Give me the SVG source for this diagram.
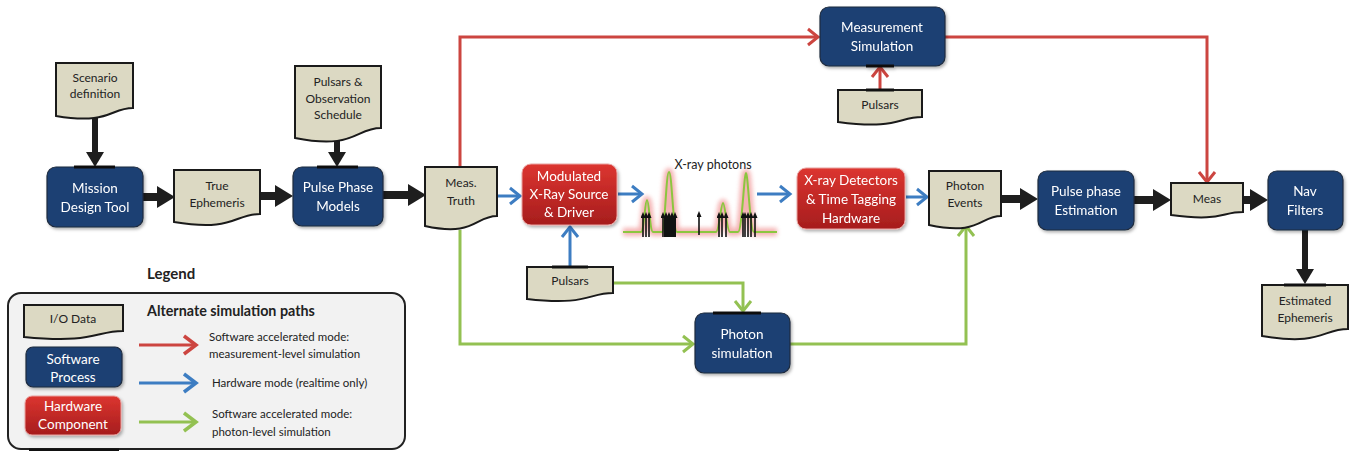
<svg xmlns="http://www.w3.org/2000/svg" width="1351" height="451" viewBox="0 0 1351 451">
<style>
text{font-family:Lato,"Liberation Sans",sans-serif;}
.sw{fill:#1b3f73;stroke:#1c2b3e;stroke-width:1.2;}
.hw{fill:url(#redg);stroke:#e9a3a0;stroke-width:1;}
.doc{fill:#dcd9c3;stroke:#1a1a1a;stroke-width:2;}
.wt{fill:#ffffff;font-size:13.5px;text-anchor:middle;}
.dt{fill:#222222;font-size:12px;text-anchor:middle;}
.lt{fill:#222222;font-size:11.5px;}
.bar{stroke:#111;stroke-width:3;}
.blk{stroke:#1e1e1e;fill:none;}
.red{stroke:#cc4540;stroke-width:3;fill:none;}
.blu{stroke:#3d7dc2;stroke-width:3;fill:none;}
.grn{stroke:#93c152;stroke-width:3;fill:none;}
.pa{stroke:#111;stroke-width:1.6;marker-end:url(#ph);}
</style>
<defs>
<linearGradient id="redg" x1="0" y1="0" x2="0" y2="1">
<stop offset="0" stop-color="#dc3530"/>
<stop offset="1" stop-color="#a61d1d"/>
</linearGradient>
<filter id="sh" x="-10%" y="-10%" width="130%" height="130%">
<feDropShadow dx="1.5" dy="2" stdDeviation="1.5" flood-color="#000" flood-opacity="0.3"/>
</filter>
<filter id="glow" x="-10%" y="-30%" width="120%" height="160%">
<feGaussianBlur stdDeviation="2"/>
</filter>
<marker id="hb" markerUnits="userSpaceOnUse" markerWidth="18" markerHeight="22" refX="0" refY="11" orient="auto">
<path d="M0,0 L18,11 L0,22 z" fill="#1e1e1e"/>
</marker>
<marker id="hbv" markerUnits="userSpaceOnUse" markerWidth="15" markerHeight="18" refX="0" refY="9" orient="auto">
<path d="M0,0 L15,9 L0,18 z" fill="#1e1e1e"/>
</marker>
<marker id="hr" markerUnits="userSpaceOnUse" markerWidth="14" markerHeight="20" refX="11" refY="10" orient="auto">
<path d="M1,2 L11,10 L1,18" fill="none" stroke="#cc4540" stroke-width="3"/>
</marker>
<marker id="hbl" markerUnits="userSpaceOnUse" markerWidth="14" markerHeight="20" refX="11" refY="10" orient="auto">
<path d="M1,2 L11,10 L1,18" fill="none" stroke="#3d7dc2" stroke-width="3"/>
</marker>
<marker id="hg" markerUnits="userSpaceOnUse" markerWidth="14" markerHeight="20" refX="11" refY="10" orient="auto">
<path d="M1,2 L11,10 L1,18" fill="none" stroke="#93c152" stroke-width="3"/>
</marker>
<marker id="hrL" markerUnits="userSpaceOnUse" markerWidth="16" markerHeight="22" refX="13" refY="11" orient="auto">
<path d="M1,2 L13,11 L1,20" fill="none" stroke="#cc4540" stroke-width="3.5"/>
</marker>
<marker id="hblL" markerUnits="userSpaceOnUse" markerWidth="16" markerHeight="22" refX="13" refY="11" orient="auto">
<path d="M1,2 L13,11 L1,20" fill="none" stroke="#3d7dc2" stroke-width="3.5"/>
</marker>
<marker id="hgL" markerUnits="userSpaceOnUse" markerWidth="16" markerHeight="22" refX="13" refY="11" orient="auto">
<path d="M1,2 L13,11 L1,20" fill="none" stroke="#93c152" stroke-width="3.5"/>
</marker>
<marker id="ph" markerUnits="userSpaceOnUse" markerWidth="6" markerHeight="5" refX="3" refY="2.5" orient="auto">
<path d="M0,0 L6,2.5 L0,5 z" fill="#111"/>
</marker>
</defs>

<rect width="1351" height="451" fill="#ffffff"/>

<!-- Connectors -->
<g id="connectors">
<!-- black flow -->
<line class="blk" x1="95" y1="118" x2="95" y2="152" stroke-width="6" marker-end="url(#hbv)"/>
<line class="blk" x1="143" y1="197" x2="157" y2="197" stroke-width="8" marker-end="url(#hb)"/>
<line class="blk" x1="260" y1="196" x2="275" y2="196" stroke-width="8" marker-end="url(#hb)"/>
<line class="blk" x1="337" y1="141" x2="337" y2="152" stroke-width="6" marker-end="url(#hbv)"/>
<line class="blk" x1="383" y1="195" x2="408" y2="195" stroke-width="8" marker-end="url(#hb)"/>
<line class="blk" x1="1001" y1="199" x2="1020" y2="199" stroke-width="8" marker-end="url(#hb)"/>
<line class="blk" x1="1134" y1="200" x2="1153" y2="200" stroke-width="8" marker-end="url(#hb)"/>
<line class="blk" x1="1243" y1="200" x2="1250" y2="200" stroke-width="8" marker-end="url(#hb)"/>
<line class="blk" x1="1305" y1="230" x2="1305" y2="269" stroke-width="6" marker-end="url(#hbv)"/>
<!-- red path -->
<polyline class="red" points="460,167 460,37 818,37" marker-end="url(#hr)"/>
<polyline class="red" points="945,37 1207,37 1207,182" marker-end="url(#hr)"/>
<line class="red" x1="880" y1="90" x2="880" y2="67" marker-end="url(#hr)"/>
<!-- blue path -->
<line class="blu" x1="497" y1="196" x2="520" y2="196" marker-end="url(#hbl)"/>
<line class="blu" x1="618" y1="194" x2="642" y2="194" marker-end="url(#hbl)"/>
<line class="blu" x1="757" y1="194" x2="790" y2="194" marker-end="url(#hbl)"/>
<line class="blu" x1="906" y1="197" x2="927" y2="197" marker-end="url(#hbl)"/>
<line class="blu" x1="570" y1="267" x2="570" y2="227" marker-end="url(#hbl)"/>
<!-- green path -->
<polyline class="grn" points="460,230 460,344 693,344" marker-end="url(#hg)"/>
<polyline class="grn" points="613,283 743,283 743,311" marker-end="url(#hg)"/>
<polyline class="grn" points="790,344 966,344 966,226" marker-end="url(#hg)"/>
</g>

<!-- Nodes -->
<g id="scenario">
<path class="doc" d="M56,63 H133 V108 C110,108 110,125 56,116 Z"/>
<text class="dt" x="95" y="82">Scenario</text>
<text class="dt" x="95" y="98">definition</text>
</g>

<g id="mission" filter="url(#sh)">
<rect class="sw" x="47" y="167" width="96" height="60" rx="9"/>
<line class="bar" x1="74" y1="167" x2="115" y2="167"/>
<text class="wt" x="95" y="193">Mission</text>
<text class="wt" x="95" y="212">Design Tool</text>
</g>

<g id="true-eph">
<path class="doc" d="M174,170 H260 V214 C234,214 234,232 174,222 Z"/>
<text class="dt" x="217" y="190">True</text>
<text class="dt" x="217" y="207">Ephemeris</text>
</g>

<g id="schedule">
<path class="doc" d="M295,66 H381 V128 C355,128 355,150 295,138 Z"/>
<text class="dt" x="338" y="86">Pulsars &amp;</text>
<text class="dt" x="338" y="103">Observation</text>
<text class="dt" x="338" y="119">Schedule</text>
</g>

<g id="pulse-phase-models" filter="url(#sh)">
<rect class="sw" x="293" y="167" width="90" height="59" rx="9"/>
<line class="bar" x1="317" y1="167" x2="358" y2="167"/>
<text class="wt" x="338" y="192">Pulse Phase</text>
<text class="wt" x="338" y="211">Models</text>
</g>

<g id="meas-truth">
<path class="doc" d="M425,167 H497 V216 C475,216 475,237 425,226 Z"/>
<text class="dt" x="461" y="187">Meas.</text>
<text class="dt" x="461" y="205">Truth</text>
</g>

<g id="xray-source" filter="url(#sh)">
<rect class="hw" x="522" y="164" width="95" height="61" rx="9"/>
<text class="wt" x="569" y="181">Modulated</text>
<text class="wt" x="569" y="199">X-Ray Source</text>
<text class="wt" x="569" y="217">&amp; Driver</text>
</g>

<g id="xray-photons">
<path d="M623,232 H641 C644,232 645,200 647,200 C649,200 650,232 653,232 H662 C665,232 666,172 669,172 C672,172 673,232 677,232 H716 C719,232 721,203 723,203 C725,203 727,232 730,232 H738 C742,232 744,173 746,173 C748,173 750,232 754,232 H777" fill="none" stroke="#f19a9a" stroke-width="8" opacity="0.75" filter="url(#glow)"/>
<path d="M623,232 H641 C644,232 645,200 647,200 C649,200 650,232 653,232 H662 C665,232 666,172 669,172 C672,172 673,232 677,232 H716 C719,232 721,203 723,203 C725,203 727,232 730,232 H738 C742,232 744,173 746,173 C748,173 750,232 754,232 H777" fill="none" stroke="#8cc63f" stroke-width="2"/>
<line class="pa" x1="643" y1="237" x2="643" y2="215"/>
<line class="pa" x1="646" y1="237" x2="646" y2="215"/>
<line class="pa" x1="649" y1="237" x2="649" y2="215"/>
<line class="pa" x1="663" y1="237" x2="663" y2="215"/>
<line class="pa" x1="666" y1="237" x2="666" y2="215"/>
<line class="pa" x1="669" y1="237" x2="669" y2="215"/>
<line class="pa" x1="672" y1="237" x2="672" y2="215"/>
<line class="pa" x1="675" y1="237" x2="675" y2="215"/>
<rect x="664" y="218" width="12" height="19" fill="#111"/>
<line class="pa" x1="699" y1="235" x2="699" y2="214"/>
<line class="pa" x1="719" y1="237" x2="719" y2="215"/>
<line class="pa" x1="722" y1="237" x2="722" y2="215"/>
<line class="pa" x1="726" y1="237" x2="726" y2="215"/>
<line class="pa" x1="743" y1="237" x2="743" y2="215"/>
<line class="pa" x1="745" y1="237" x2="745" y2="215"/>
<line class="pa" x1="748" y1="237" x2="748" y2="215"/>
<line class="pa" x1="751" y1="237" x2="751" y2="215"/>
<line class="pa" x1="755" y1="237" x2="755" y2="215"/>
<text x="713" y="169" font-size="12.5" fill="#222" text-anchor="middle">X-ray photons</text>
</g>

<g id="xray-detectors" filter="url(#sh)">
<rect class="hw" x="797" y="168" width="108" height="61" rx="9"/>
<text class="wt" x="851" y="185">X-ray Detectors</text>
<text class="wt" x="851" y="204">&amp; Time Tagging</text>
<text class="wt" x="851" y="223">Hardware</text>
</g>

<g id="measurement-sim" filter="url(#sh)">
<rect class="sw" x="820" y="7" width="125" height="59" rx="9"/>
<line class="bar" x1="866" y1="66" x2="894" y2="66"/>
<text class="wt" x="882" y="32">Measurement</text>
<text class="wt" x="882" y="51">Simulation</text>
</g>

<g id="pulsars-top">
<path class="doc" d="M838,90 H922 V117 C898,117 898,130 838,122 Z"/>
<line class="bar" x1="866" y1="90" x2="894" y2="90"/>
<text class="dt" x="880" y="109">Pulsars</text>
</g>

<g id="pulsars-mid">
<path class="doc" d="M527,267 H613 V293 C588,293 588,306 527,299 Z"/>
<line class="bar" x1="552" y1="267" x2="588" y2="267"/>
<text class="dt" x="570" y="285">Pulsars</text>
</g>

<g id="photon-sim" filter="url(#sh)">
<rect class="sw" x="695" y="313" width="95" height="60" rx="9"/>
<line class="bar" x1="713" y1="313" x2="761" y2="313"/>
<text class="wt" x="742" y="339">Photon</text>
<text class="wt" x="742" y="358">simulation</text>
</g>

<g id="photon-events">
<path class="doc" d="M929,171 H1001 V216 C980,216 980,236 929,225 Z"/>
<text class="dt" x="965" y="190">Photon</text>
<text class="dt" x="965" y="207">Events</text>
</g>

<g id="pulse-phase-est" filter="url(#sh)">
<rect class="sw" x="1038" y="171" width="96" height="59" rx="9"/>
<text class="wt" x="1086" y="196">Pulse phase</text>
<text class="wt" x="1086" y="215">Estimation</text>
</g>

<g id="meas">
<path class="doc" d="M1171,183 H1243 V212 C1221,212 1221,222 1171,215 Z"/>
<text class="dt" x="1207" y="203">Meas</text>
</g>

<g id="nav-filters" filter="url(#sh)">
<rect class="sw" x="1268" y="171" width="75" height="59" rx="9"/>
<text class="wt" x="1305" y="196">Nav</text>
<text class="wt" x="1305" y="215">Filters</text>
</g>

<g id="est-eph">
<path class="doc" d="M1262,285 H1348 V329 C1322,329 1322,346 1262,336 Z"/>
<line class="bar" x1="1284" y1="285" x2="1326" y2="285"/>
<text class="dt" x="1305" y="305">Estimated</text>
<text class="dt" x="1305" y="322">Ephemeris</text>
</g>

<!-- Legend -->
<g id="legend">
<text x="147" y="279" font-size="15" font-weight="bold" fill="#222">Legend</text>
<rect x="8" y="293" width="397" height="156" rx="13" fill="#f2f2f2" stroke="#222" stroke-width="2"/>
<line x1="29" y1="450" x2="119" y2="450" stroke="#111" stroke-width="3"/>
<path class="doc" d="M24,305 H123 V331 C95,331 95,344 24,337 Z"/>
<text class="dt" x="73" y="323">I/O Data</text>
<g filter="url(#sh)">
<rect class="sw" x="26" y="347" width="96" height="40" rx="7"/>
<rect class="hw" x="25" y="396" width="96" height="39" rx="7"/>
</g>
<text class="wt" x="73" y="364">Software</text>
<text class="wt" x="73" y="382">Process</text>
<text class="wt" x="73" y="411">Hardware</text>
<text class="wt" x="73" y="429">Component</text>
<text x="147" y="316" font-size="14.3" font-weight="bold" fill="#222">Alternate simulation paths</text>
<line class="red" x1="139" y1="345" x2="196" y2="345" stroke-width="3.5" marker-end="url(#hrL)"/>
<line class="blu" x1="139" y1="383" x2="196" y2="383" stroke-width="3.5" marker-end="url(#hblL)"/>
<line class="grn" x1="139" y1="422" x2="196" y2="422" stroke-width="3.5" marker-end="url(#hgL)"/>
<text class="lt" x="209" y="341">Software accelerated mode:</text>
<text class="lt" x="209" y="358">measurement-level simulation</text>
<text class="lt" x="212" y="387">Hardware mode (realtime only)</text>
<text class="lt" x="212" y="418">Software accelerated mode:</text>
<text class="lt" x="212" y="436">photon-level simulation</text>
</g>
</svg>
